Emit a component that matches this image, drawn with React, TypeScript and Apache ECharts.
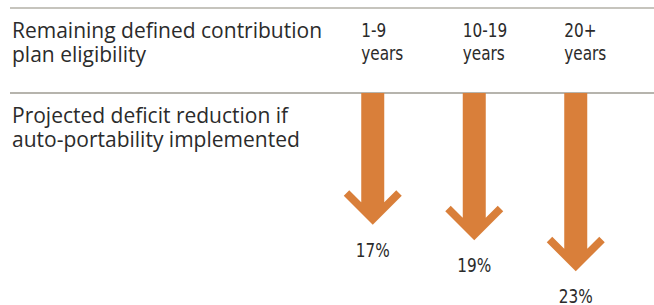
import React, { useEffect, useRef } from "react";
import * as echarts from "echarts";

const categories = ["1-9", "10-19", "20+"];
const categoryUnit = "years";
const reductions = [17, 19, 23];
const headerLines = ["Remaining defined contribution", "plan eligibility"];
const rowLines = ["Projected deficit reduction if", "auto-portability implemented"];

const ORANGE = "#D97F3A";
const TEXT = "#2b2b2b";
const NARROW = '"Liberation Sans Narrow", "DejaVu Sans Condensed", "Roboto", sans-serif';
const SANS = '"Open Sans", "Noto Sans", sans-serif';

export default function App() {
  const ref = useRef<HTMLDivElement>(null);
  useEffect(() => {
    if (!ref.current) return;
    const chart = echarts.init(ref.current, null, { renderer: "svg" });
    const s = 11.5;
    const w = 29;
    const d = 5.5;
    chart.setOption({
      animation: false,
      grid: { left: 322, right: 27.5, top: 93, bottom: 10.5 },
      xAxis: { type: "category", data: categories, show: false },
      yAxis: { type: "value", min: 0, max: 26, inverse: true, show: false },
      graphic: [
        { type: "line", shape: { x1: 10, y1: 8, x2: 654, y2: 8 }, style: { stroke: "#b3b0a7", lineWidth: 1.5 } },
        { type: "line", shape: { x1: 10, y1: 93, x2: 654, y2: 93 }, style: { stroke: "#9e9b92", lineWidth: 1.5 } },
        {
          type: "text",
          left: 12,
          top: 18,
          style: { text: headerLines.join("\n"), lineHeight: 24, fill: TEXT, fontSize: 21, fontFamily: SANS },
        },
        {
          type: "text",
          left: 12,
          top: 103,
          style: { text: rowLines.join("\n"), lineHeight: 24, fill: TEXT, fontSize: 21, fontFamily: SANS },
        },
      ],
      series: [
        {
          type: "custom",
          data: reductions.map((v, i) => [i, v]),
          renderItem: (params: any, api: any) => {
            const idx = api.value(0);
            const v = api.value(1);
            const top = api.coord([idx, 0]);
            const tip = api.coord([idx, v]);
            const cx = top[0];
            const y0 = top[1];
            const ty = tip[1];
            const points = [
              [cx - s, y0],
              [cx + s, y0],
              [cx + s, ty - 2 * d - s],
              [cx + w - d, ty - w - d],
              [cx + w, ty - w],
              [cx, ty],
              [cx - w, ty - w],
              [cx - w + d, ty - w - d],
              [cx - s, ty - 2 * d - s],
            ];
            const txt = (text: string, x: number, y: number, align: string) => ({
              type: "text",
              x,
              y,
              scaleX: 0.85,
              style: {
                text,
                x: 0,
                y: 0,
                align,
                textAlign: align,
                verticalAlign: "middle",
                textVerticalAlign: "middle",
                fill: TEXT,
                fontSize: 20,
                fontFamily: NARROW,
              },
            });
            return {
              type: "group",
              children: [
                { type: "polygon", shape: { points }, style: { fill: ORANGE } },
                txt(v + "%", cx, ty + 25, "center"),
                txt(categories[idx], cx - s, 30, "left"),
                txt(categoryUnit, cx - s, 53, "left"),
              ],
            };
          },
        },
      ],
    });
    return () => chart.dispose();
  }, []);
  return (
    <div
      ref={ref}
      style={{ position: "fixed", left: 0, top: 0, width: 654, height: 305, background: "#fff" }}
    />
  );
}
